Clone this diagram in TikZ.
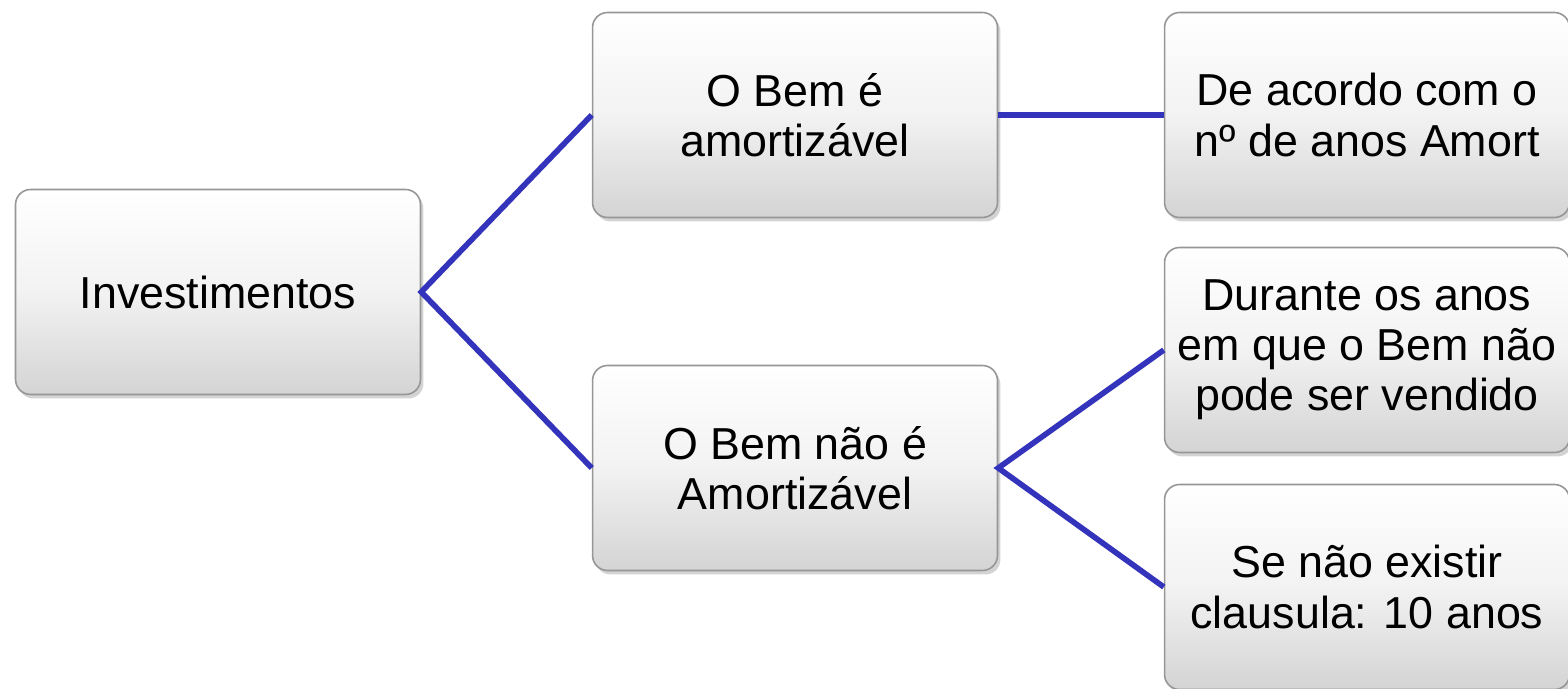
\documentclass[tikz,border=0pt]{standalone}
\usepackage{fontspec}
\setmainfont{Liberation Sans}
\usetikzlibrary{shadows}

\definecolor{linkblue}{RGB}{51,51,187}
\definecolor{boxedge}{RGB}{150,150,150}

\begin{document}
\begin{tikzpicture}[x=0.02cm, y=0.02cm,
  box/.style={rectangle, rounded corners=0.3cm, draw=boxedge, line width=0.9pt,
    top color=white, bottom color=black!17, middle color=black!5,
    minimum width=8.1cm, minimum height=4.1cm, inner sep=0pt,
    align=center, font=\fontsize{25.5}{28.5}\selectfont,
    drop shadow={shadow xshift=0.06cm, shadow yshift=-0.08cm, opacity=0.35}},
  link/.style={draw=linkblue, line width=3.2pt}]
\useasboundingbox (0,0) rectangle (1568,689);

% root
\node[box] (inv) at (218,397) {Investimentos};

% second level
\node[box] (amort) at (795,574) {O Bem é\\amortizável};
\node[box] (naoamort) at (795,221) {O Bem não é\\Amortizável};

% leaves
\node[box] (anos) at (1367,574) {De acordo com o\\nº de anos Amort};
\node[box] (venda) at (1367,339) {Durante os anos\\em que o Bem não\\pode ser vendido};
\node[box] (clausula) at (1367,102) {Se não existir\\clausula: 10 anos};

\draw[link] (amort.west) -- (inv.east) -- (naoamort.west);
\draw[link] (amort.east) -- (anos.west);
\draw[link] (venda.west) -- (naoamort.east) -- (clausula.west);
\end{tikzpicture}
\end{document}
